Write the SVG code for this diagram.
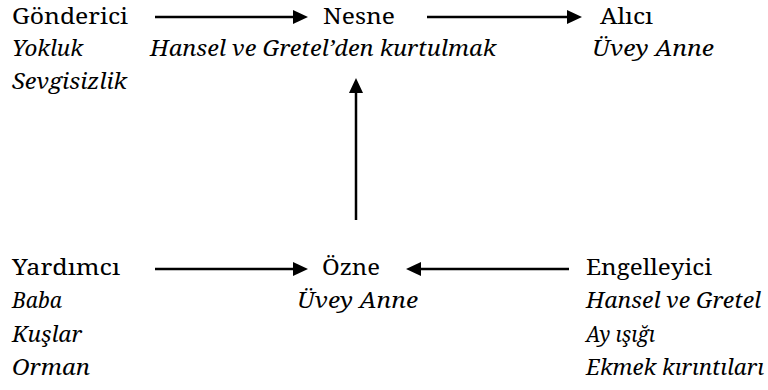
<svg xmlns="http://www.w3.org/2000/svg" width="768" height="390" viewBox="0 0 768 390">
  <style>
    text { font-family: "Noto Serif", "Liberation Serif", serif; font-size: 22px; fill: #000; }
    .it { font-style: italic; }
    .conn line { stroke: #000; stroke-width: 2.5; fill: none; }
  </style>
  <defs>
    <marker id="head" markerUnits="userSpaceOnUse" markerWidth="16" markerHeight="16" viewBox="0 -8 16 16" refX="1" refY="0" orient="auto">
      <path d="M0,-7 L15,0 L0,7 z" fill="#000"/>
    </marker>
  </defs>
  <rect width="768" height="390" fill="#fff"/>

  <g id="gonderici">
    <text x="12" y="24" textLength="116" lengthAdjust="spacingAndGlyphs">Gönderici</text>
    <text class="it" x="12" y="56" textLength="71" lengthAdjust="spacingAndGlyphs">Yokluk</text>
    <text class="it" x="12" y="89" textLength="115" lengthAdjust="spacingAndGlyphs">Sevgisizlik</text>
  </g>
  <g id="nesne">
    <text x="323" y="24" textLength="72" lengthAdjust="spacingAndGlyphs">Nesne</text>
    <text class="it" x="150" y="56" textLength="346" lengthAdjust="spacingAndGlyphs">Hansel ve Gretel’den kurtulmak</text>
  </g>
  <g id="alici">
    <text x="600" y="24" textLength="53" lengthAdjust="spacingAndGlyphs">Alıcı</text>
    <text class="it" x="592" y="56" textLength="122" lengthAdjust="spacingAndGlyphs">Üvey Anne</text>
  </g>
  <g id="yardimci">
    <text x="12" y="275" textLength="108" lengthAdjust="spacingAndGlyphs">Yardımcı</text>
    <text class="it" x="12" y="308" textLength="50" lengthAdjust="spacingAndGlyphs">Baba</text>
    <text class="it" x="12" y="342" textLength="70" lengthAdjust="spacingAndGlyphs">Kuşlar</text>
    <text class="it" x="12" y="375" textLength="78" lengthAdjust="spacingAndGlyphs">Orman</text>
  </g>
  <g id="ozne">
    <text x="322" y="275" textLength="58" lengthAdjust="spacingAndGlyphs">Özne</text>
    <text class="it" x="297" y="308" textLength="121" lengthAdjust="spacingAndGlyphs">Üvey Anne</text>
  </g>
  <g id="engelleyici">
    <text x="586" y="275" textLength="126" lengthAdjust="spacingAndGlyphs">Engelleyici</text>
    <text class="it" x="586" y="308" textLength="175" lengthAdjust="spacingAndGlyphs">Hansel ve Gretel</text>
    <text class="it" x="586" y="342" textLength="69" lengthAdjust="spacingAndGlyphs">Ay ışığı</text>
    <text class="it" x="586" y="375" textLength="178" lengthAdjust="spacingAndGlyphs">Ekmek kırıntıları</text>
  </g>

  <g id="connectors" class="conn">
    <line x1="155" y1="17" x2="294" y2="17" marker-end="url(#head)"/>
    <line x1="427" y1="17" x2="568" y2="17" marker-end="url(#head)"/>
    <line x1="155" y1="269" x2="294" y2="269" marker-end="url(#head)"/>
    <line x1="569" y1="269" x2="420" y2="269" marker-end="url(#head)"/>
    <line x1="356" y1="220" x2="356" y2="92" marker-end="url(#head)"/>
  </g>
</svg>
